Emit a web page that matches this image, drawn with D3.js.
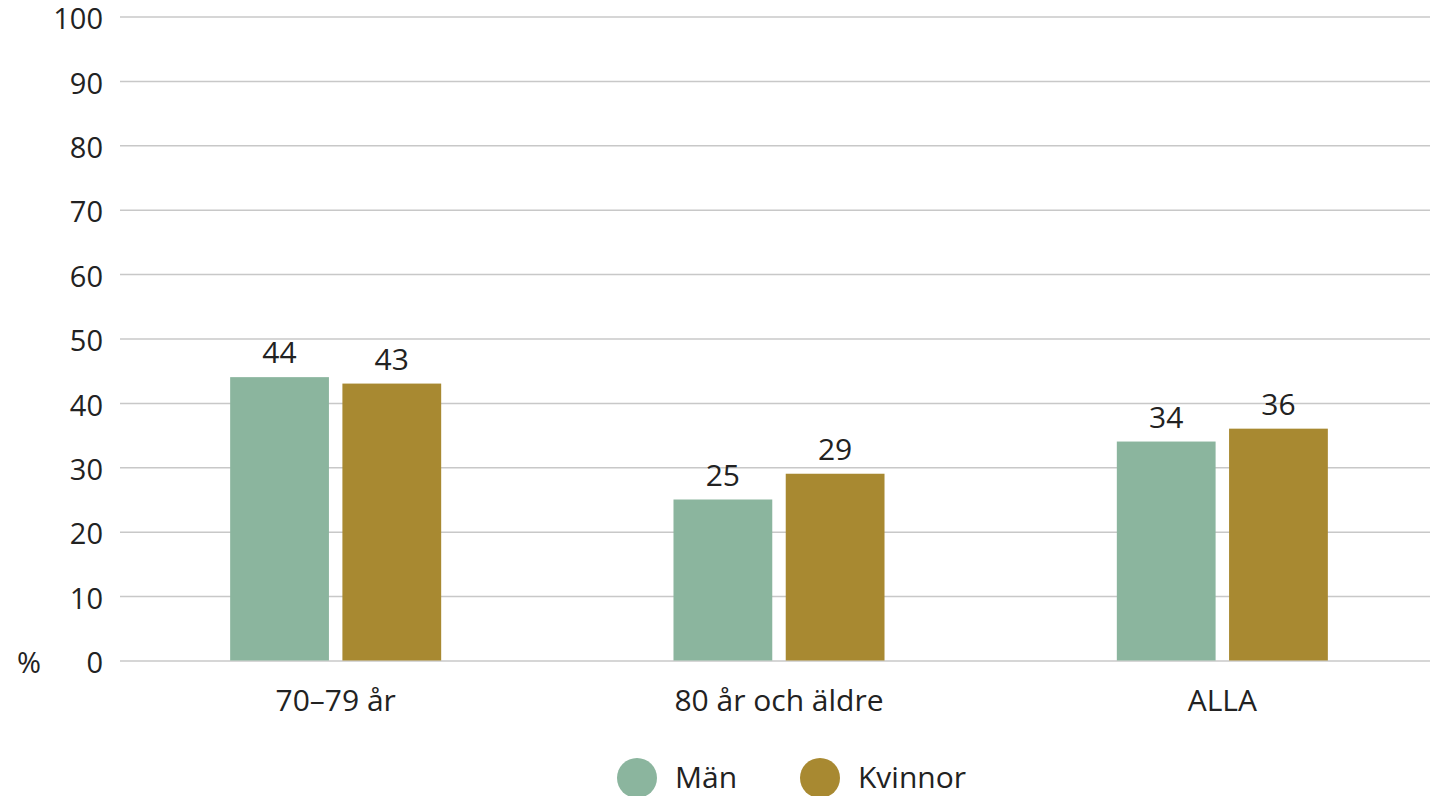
<!DOCTYPE html>
<html>
<head>
<meta charset="utf-8">
<script src="https://cdn.jsdelivr.net/npm/d3@7"></script>
<style>
  body { margin: 0; background: #fff; }
  text { font-family: "Open Sans", sans-serif; fill: #222; }
</style>
</head>
<body>
<script>
// categories and series
const categories = ["70–79 år", "80 år och äldre", "ALLA"];
const series = ["Män", "Kvinnor"];
const man = [44, 25, 34];
const kvinnor = [43, 29, 36];
const yTicks = [0, 10, 20, 30, 40, 50, 60, 70, 80, 90, 100];
const colors = ["#8bb59e", "#a88931"];

const canvWidth = 1430, canvHeight = 796;

const svg = d3.select("body").append("svg")
    .attr("width", canvWidth)
    .attr("height", canvHeight);

// scales
const yScale = d3.scaleLinear().domain([0, 100]).range([660.5, 16.5]);

const x0 = d3.scaleBand().domain(categories)
    .range([114, 1444])
    .paddingInner(0.524)
    .paddingOuter(0.262);

const x1 = d3.scaleBand().domain(series)
    .range([0, x0.bandwidth()])
    .paddingInner(0.12);

const color = d3.scaleOrdinal().domain(series).range(colors);

// grid lines + y tick labels
const yAxis = d3.axisLeft(yScale)
    .tickValues(yTicks)
    .tickSize(-(1430 - 120))
    .tickPadding(17);

svg.append("g")
    .attr("id", "yAxis")
    .attr("transform", "translate(120,0)")
    .call(yAxis)
    .call(g => g.select(".domain").remove())
    .call(g => g.selectAll(".tick line").attr("stroke", "#c8c8c8").attr("stroke-width", 1.5))
    .call(g => g.selectAll(".tick text")
        .attr("dy", "0.42em")
        .attr("font-size", "29px")
        .attr("font-family", "Open Sans, sans-serif")
        .attr("fill", "#222"));

// % unit label
svg.append("text")
    .attr("x", 29)
    .attr("y", yScale(0))
    .attr("dy", "0.42em")
    .attr("font-size", "29px")
    .style("text-anchor", "middle")
    .text("%");

// data rows
const rows = categories.map((c, i) => ({cat: c, values: [
    {s: series[0], v: man[i]},
    {s: series[1], v: kvinnor[i]}
]}));

const groups = svg.selectAll("g.group")
    .data(rows)
    .enter().append("g")
    .attr("class", "group")
    .attr("transform", d => `translate(${x0(d.cat)},0)`);

groups.selectAll("rect")
    .data(d => d.values)
    .enter().append("rect")
    .attr("x", d => x1(d.s))
    .attr("y", d => yScale(d.v))
    .attr("width", x1.bandwidth())
    .attr("height", d => yScale(0) - yScale(d.v))
    .attr("fill", d => color(d.s));

// value labels
groups.selectAll("text.val")
    .data(d => d.values)
    .enter().append("text")
    .attr("class", "val")
    .attr("x", d => x1(d.s) + x1.bandwidth() / 2)
    .attr("y", d => yScale(d.v) - 14)
    .attr("font-size", "30px")
    .style("text-anchor", "middle")
    .text(d => d.v);

// category labels
const xAxis = d3.axisBottom(x0).tickSize(0).tickPadding(0);
svg.append("g")
    .attr("id", "xAxis")
    .attr("transform", `translate(0,${yScale(0)})`)
    .call(xAxis)
    .call(g => g.select(".domain").remove())
    .call(g => g.selectAll(".tick text")
        .attr("y", 50)
        .attr("dy", 0)
        .attr("font-size", "30px")
        .attr("font-family", "Open Sans, sans-serif")
        .attr("fill", "#222"));

// legend
const legendX = [637, 820];
const legend = svg.selectAll("g.legend")
    .data(series)
    .enter().append("g")
    .attr("class", "legend")
    .attr("transform", (d, i) => `translate(${legendX[i]},778)`);

legend.append("circle")
    .attr("r", 20)
    .attr("fill", d => color(d));

legend.append("text")
    .attr("x", 38)
    .attr("y", 10)
    .attr("font-size", "30px")
    .text(d => d);
</script>
</body>
</html>
